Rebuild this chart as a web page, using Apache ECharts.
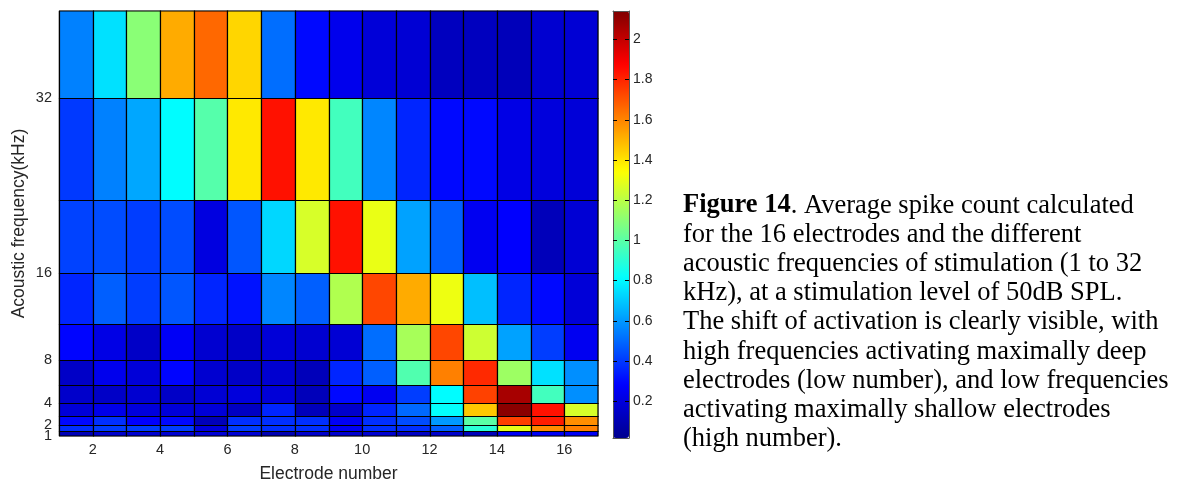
<!DOCTYPE html>
<html>
<head>
<meta charset="utf-8">
<script src="https://cdn.jsdelivr.net/npm/echarts@6/dist/echarts.min.js"></script>
<style>
  html, body { margin: 0; padding: 0; background: #fff; }
  #chart { width: 1179px; height: 484px; }
</style>
</head>
<body>
<div id="chart"></div>
<script>
// ---- data ----
const electrodes = [1, 2, 3, 4, 5, 6, 7, 8, 9, 10, 11, 12, 13, 14, 15, 16];
// row edges of acoustic frequency (kHz), half-octave steps
const freqEdges = [1, 1.414, 2, 2.828, 4, 5.657, 8, 11.31, 16, 22.63, 32, 45.25];
// average spike count, rows from lowest frequency (1 kHz) to highest (32 kHz)
const row1k   = [0.11, 0.16, 0.17, 0.17, 0.18, 0.18, 0.10, 0.16, 0.17, 0.17, 0.14, 0.16, 0.12, 0.26, 0.26, 0.26];
const row1k4  = [0.38, 0.41, 0.41, 0.41, 0.20, 0.41, 0.38, 0.38, 0.26, 0.38, 0.38, 0.48, 0.90, 1.29, 1.59, 1.61];
const row2k   = [0.30, 0.38, 0.28, 0.30, 0.12, 0.38, 0.38, 0.38, 0.26, 0.38, 0.44, 0.60, 1.00, 1.74, 1.82, 1.58];
const row2k8  = [0.19, 0.23, 0.20, 0.19, 0.19, 0.14, 0.36, 0.12, 0.16, 0.36, 0.50, 0.82, 1.46, 2.12, 1.84, 1.26];
const row4k   = [0.16, 0.15, 0.17, 0.15, 0.18, 0.20, 0.19, 0.12, 0.30, 0.25, 0.41, 0.81, 1.74, 2.06, 0.95, 0.58];
const row5k7  = [0.15, 0.24, 0.19, 0.29, 0.17, 0.15, 0.17, 0.12, 0.36, 0.48, 0.98, 1.61, 1.79, 1.14, 0.75, 0.58];
const row8k   = [0.29, 0.22, 0.15, 0.26, 0.17, 0.15, 0.19, 0.17, 0.18, 0.51, 1.16, 1.73, 1.24, 0.62, 0.41, 0.25];
const row11k  = [0.36, 0.48, 0.41, 0.46, 0.36, 0.32, 0.56, 0.48, 1.18, 1.73, 1.52, 1.31, 0.68, 0.36, 0.30, 0.19];
const row16k  = [0.42, 0.44, 0.41, 0.44, 0.21, 0.46, 0.73, 1.26, 1.84, 1.30, 0.62, 0.48, 0.25, 0.28, 0.12, 0.18];
const row22k  = [0.40, 0.55, 0.63, 0.81, 0.99, 1.39, 1.84, 1.39, 0.95, 0.56, 0.36, 0.30, 0.30, 0.22, 0.20, 0.19];
const row32k  = [0.55, 0.75, 1.10, 1.52, 1.66, 1.43, 0.51, 0.30, 0.24, 0.19, 0.18, 0.13, 0.13, 0.12, 0.17, 0.18];
const rows = [row1k, row1k4, row2k, row2k8, row4k, row5k7, row8k, row11k, row16k, row22k, row32k];

const xTicks = [2, 4, 6, 8, 10, 12, 14, 16];
const yTicks = [2, 4, 8, 16, 32];
const yTicksLow = [1];
const cbTicks = [0.2, 0.4, 0.6, 0.8, 1, 1.2, 1.4, 1.6, 1.8, 2];
const colorMin = 0.017, colorMax = 2.141;
const jet = ['#00008F', '#0000FF', '#0080FF', '#00FFFF', '#80FF80', '#FFFF00', '#FF8000', '#FF0000', '#800000'];

const captionLines = [
  '{b|Figure 14}. Average spike count calculated',
  'for the 16 electrodes and the different',
  'acoustic frequencies of stimulation (1 to 32',
  'kHz), at a stimulation level of 50dB SPL.',
  'The shift of activation is clearly visible, with',
  'high frequencies activating maximally deep',
  'electrodes (low number), and low frequencies',
  'activating maximally shallow electrodes',
  '(high number).'
];

// ---- build cells ----
const cells = [];
rows.forEach((r, ri) => {
  r.forEach((v, ci) => {
    cells.push([electrodes[ci], electrodes[ci] + 1, freqEdges[ri], freqEdges[ri + 1], v]);
  });
});

const chart = echarts.init(document.getElementById('chart'), null, { renderer: 'canvas' });
const sans = 'Liberation Sans, Arial, sans-serif';
const serif = 'Liberation Serif, Times New Roman, serif';
const lbl = { fontFamily: sans, fontSize: 14.5, color: '#262626' };

chart.setOption({
  animation: false,
  backgroundColor: '#fff',
  grid: [
    { left: 59, top: 11, width: 539, height: 425, show: true, borderColor: '#9a9a9a', borderWidth: 1, outerBoundsMode: 'none', containLabel: false },
    { left: 613, top: 11, width: 16, height: 427, outerBoundsMode: 'none', containLabel: false }
  ],
  xAxis: [
    {
      type: 'value', gridIndex: 0, min: 1, max: 17,
      name: 'Electrode number', nameLocation: 'middle', nameGap: 29,
      nameTextStyle: { fontFamily: sans, fontSize: 17.5, color: '#262626' },
      axisLine: { show: false }, axisTick: { show: false }, splitLine: { show: false },
      axisLabel: Object.assign({ customValues: xTicks, margin: 6 }, lbl)
    },
    {
      type: 'value', gridIndex: 1, min: 0, max: 1, position: 'bottom', z: 10,
      axisLine: { show: true, lineStyle: { color: '#555', width: 1 } },
      axisTick: { show: false }, axisLabel: { show: false }, splitLine: { show: false }
    },
    {
      type: 'value', gridIndex: 1, min: 0, max: 1, position: 'top', z: 10,
      axisLine: { show: true, lineStyle: { color: '#555', width: 1 } },
      axisTick: { show: false }, axisLabel: { show: false }, splitLine: { show: false }
    }
  ],
  yAxis: [
    {
      type: 'value', gridIndex: 0, min: 1, max: 40,
      name: 'Acoustic frequency(kHz)', nameLocation: 'middle', nameGap: 31,
      nameTextStyle: { fontFamily: sans, fontSize: 17.5, color: '#262626' },
      axisLine: { show: false }, axisTick: { show: false }, splitLine: { show: false },
      axisLabel: Object.assign({ customValues: yTicks, margin: 7, hideOverlap: false }, lbl)
    },
    {
      type: 'value', gridIndex: 1, min: colorMin, max: colorMax, position: 'right', z: 10,
      axisLine: { show: true, onZero: false, lineStyle: { color: '#555', width: 1 } },
      axisTick: { show: true, inside: true, length: 4, customValues: cbTicks, lineStyle: { color: '#000' } },
      axisLabel: Object.assign({ customValues: cbTicks, margin: 4, formatter: v => String(v) }, lbl, { fontSize: 14 }),
      splitLine: { show: false }
    },
    {
      type: 'value', gridIndex: 1, min: colorMin, max: colorMax, position: 'left', z: 10,
      axisLine: { show: true, onZero: false, lineStyle: { color: '#555', width: 1 } },
      axisTick: { show: true, inside: true, length: 4, customValues: cbTicks, lineStyle: { color: '#000' } },
      axisLabel: { show: false }, splitLine: { show: false }
    },
    {
      type: 'value', gridIndex: 0, min: 1, max: 40, position: 'left', offset: 0,
      axisLine: { show: false }, axisTick: { show: false }, splitLine: { show: false },
      axisLabel: Object.assign({ customValues: yTicksLow, margin: 7, showMinLabel: true, hideOverlap: false }, lbl)
    }
  ],
  visualMap: {
    type: 'continuous',
    seriesIndex: 0,
    dimension: 4,
    min: colorMin, max: colorMax,
    inRange: { color: jet },
    calculable: false,
    hoverLink: false,
    text: null,
    showLabel: false,
    orient: 'vertical',
    left: 613, top: 11,
    itemWidth: 16, itemHeight: 427,
    padding: 0,
    z: 4
  },
  series: [{
    type: 'custom',
    xAxisIndex: 0, yAxisIndex: 0,
    data: cells,
    encode: { x: [0, 1], y: [2, 3] },
    renderItem: function (params, api) {
      const p0 = api.coord([api.value(0), api.value(2)]);
      const p1 = api.coord([api.value(1), api.value(3)]);
      const x0 = Math.round(p0[0]) + 0.5, x1 = Math.round(p1[0]) + 0.5;
      const yb = Math.round(p0[1]) + 0.5, yt = Math.round(p1[1]) + 0.5;
      const cs = params.coordSys;
      const shape = echarts.graphic.clipRectByRect(
        { x: x0, y: yt, width: x1 - x0, height: yb - yt },
        { x: cs.x, y: cs.y, width: cs.width, height: cs.height }
      );
      if (!shape) return null;
      return {
        type: 'rect',
        shape: shape,
        style: { fill: api.visual('color'), stroke: '#000', lineWidth: 1.2 }
      };
    }
  }],
  graphic: [{
    type: 'text',
    left: 683,
    top: 191,
    style: {
      text: captionLines.join('\n'),
      fontFamily: serif,
      fontSize: 26.5,
      lineHeight: 29.2,
      fill: '#000',
      rich: {
        b: { fontWeight: 'bold', fontFamily: serif, fontSize: 26.5, lineHeight: 29.2, fill: '#000' }
      }
    }
  }]
});
</script>
</body>
</html>
